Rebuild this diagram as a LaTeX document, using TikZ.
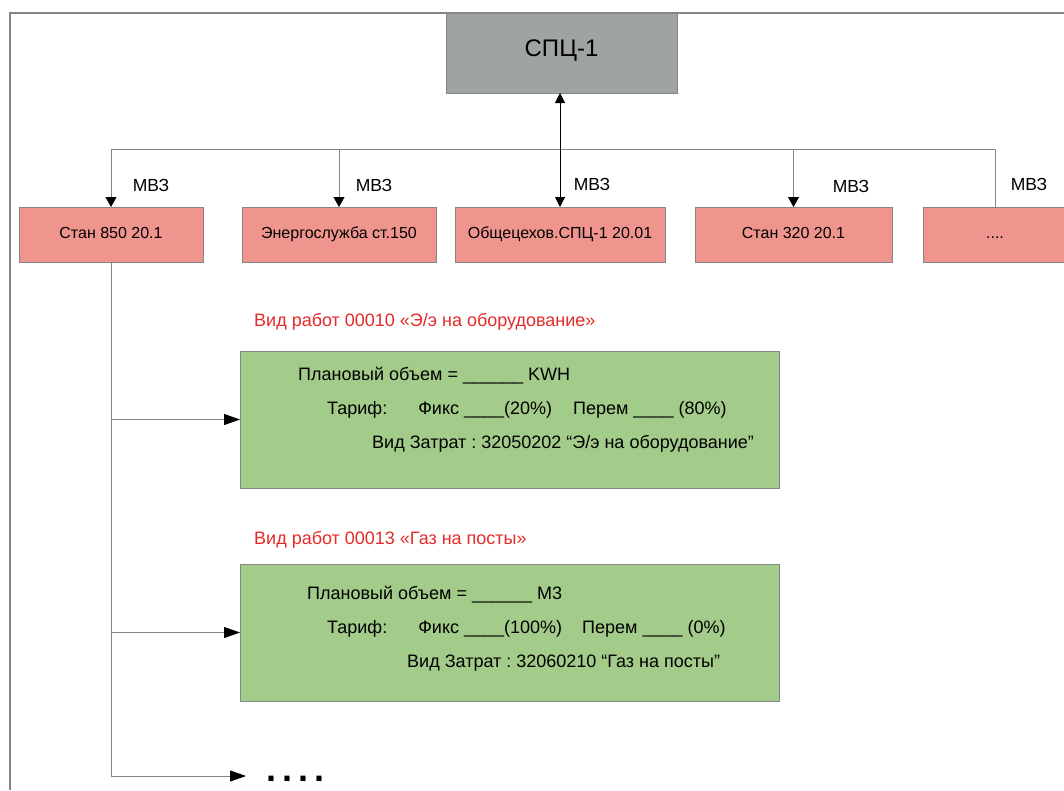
\documentclass[tikz,border=0pt]{standalone}
\usepackage{fontspec}
\setmainfont{Liberation Sans}
\frenchspacing
\usetikzlibrary{arrows.meta}
\definecolor{spcgray}{HTML}{A0A3A3}
\definecolor{mvzred}{HTML}{F0958E}
\definecolor{workgreen}{HTML}{A3CB8A}
\definecolor{linegray}{HTML}{858585}
\definecolor{labelred}{HTML}{E52A2A}
\begin{document}
\begin{tikzpicture}[x=1pt,y=-1pt,
  frameline/.style={draw=linegray, line width=1.3pt},
  conn/.style={draw=linegray, line width=0.9pt},
  arr/.style={conn, -{Triangle[length=10pt,width=11pt,color=black]}},
  harr/.style={conn, -{Triangle[length=16pt,width=11pt,color=black]}},
  dblarr/.style={draw=black, line width=1pt, {Triangle[length=10pt,width=10pt]}-{Triangle[length=10pt,width=10pt]}},
  topbox/.style={draw=linegray, line width=0.9pt, fill=spcgray, inner sep=0pt, outer sep=0pt,
    minimum width=231pt, minimum height=80pt, text height=0.72em, text depth=0pt,
    font=\fontsize{24}{28}\selectfont},
  mvzbox/.style={draw=linegray, line width=0.9pt, fill=mvzred, inner sep=0pt, outer sep=0pt,
    minimum height=55pt, text height=0.72em, text depth=0pt,
    font=\fontsize{16}{19}\selectfont},
  workbox/.style={draw=linegray, line width=0.9pt, fill=workgreen, inner sep=0pt, outer sep=0pt,
    minimum width=539pt, minimum height=137pt},
  mvzlabel/.style={inner sep=0pt, text height=0.72em, text depth=0pt, font=\fontsize{17.5}{20}\selectfont},
  worklabel/.style={inner sep=0pt, anchor=base west, text=labelred, font=\fontsize{18}{21}\selectfont},
  worktext/.style={inner sep=0pt, anchor=base west, font=\fontsize{18}{21}\selectfont},
  dotstext/.style={inner sep=0pt, anchor=base west, font=\fontsize{36}{40}\selectfont\bfseries}
]
\useasboundingbox (0,0) rectangle (1064,790);
\fill[white] (0,0) rectangle (1064,790);

% frame
\draw[frameline] (10,790) -- (10,13) -- (1064,13);

% top node
\node[topbox] (spc) at (561.5,53) {СПЦ-1};

% MVZ boxes
\node[mvzbox, minimum width=184pt] (b1) at (111,234.5) {Стан 850 20.1};
\node[mvzbox, minimum width=194pt] (b2) at (339,234.5) {Энергослужба ст.150};
\node[mvzbox, minimum width=210pt] (b3) at (560,234.5) {Общецехов.СПЦ-1 20.01};
\node[mvzbox, minimum width=197pt] (b4) at (793.5,234.5) {Стан 320 20.1};
\node[mvzbox, minimum width=144pt] (b5) at (995,234.5) {....};

% bus
\coordinate (busL) at (111,149);
\coordinate (busR) at (995,149);
\draw[conn] (busL) -- (busR);
\draw[arr] (busL) -- (b1.north);
\draw[arr] (b2.north |- busL) -- (b2.north);
\draw[arr] (b4.north |- busL) -- (b4.north);
\draw[conn] (busR) -- (b5.north);
\draw[dblarr] (b3.north |- spc.south) -- (b3.north);

% MVZ labels
\node[mvzlabel] (m1) at (151,188) {МВЗ};
\node[mvzlabel] (m2) at (374,188) {МВЗ};
\node[mvzlabel] (m3) at (592,187) {МВЗ};
\node[mvzlabel] (m4) at (851,189) {МВЗ};
\node[mvzlabel] (m5) at (1029,187) {МВЗ};

% work labels
\node[worklabel] (w1) at (254,326.4) {Вид работ 00010 «Э/э на оборудование»};
\node[worklabel] (w2) at (254,544.4) {Вид работ 00013 «Газ на посты»};

% green boxes
\node[workbox] (g1) at (509.5,419.5) {};
\node[workbox] (g2) at (509.5,632.5) {};

\node[worktext] (g1a) at (298,380.4) {Плановый объем = \_\_\_\_\_\_ KWH};
\node[worktext] (g1b) at (327,414.4) {Тариф:\hspace{31pt}Фикс \_\_\_\_(20\%)\hspace{21pt}Перем \_\_\_\_ (80\%)};
\node[worktext] (g1c) at (372,448.4) {Вид Затрат : 32050202 “Э/э на оборудование”};

\node[worktext] (g2a) at (307,599.4) {Плановый объем = \_\_\_\_\_\_ M3};
\node[worktext] (g2b) at (327,633.4) {Тариф:\hspace{31pt}Фикс \_\_\_\_(100\%)\hspace{20pt}Перем \_\_\_\_ (0\%)};
\node[worktext] (g2c) at (407,667.4) {Вид Затрат : 32060210 “Газ на посты”};

% left branch
\coordinate (endc) at (246,776);
\draw[conn] (b1.south) -- (b1.south |- endc);
\draw[harr] (b1.south |- g1.west) -- (g1.west);
\draw[harr] (b1.south |- g2.west) -- (g2.west);
\draw[harr] (b1.south |- endc) -- (endc);
\node[dotstext] (dots) at (266.5,781.5) {.\hspace{6pt}.\hspace{6pt}.\hspace{6pt}.};
\end{tikzpicture}
\end{document}
